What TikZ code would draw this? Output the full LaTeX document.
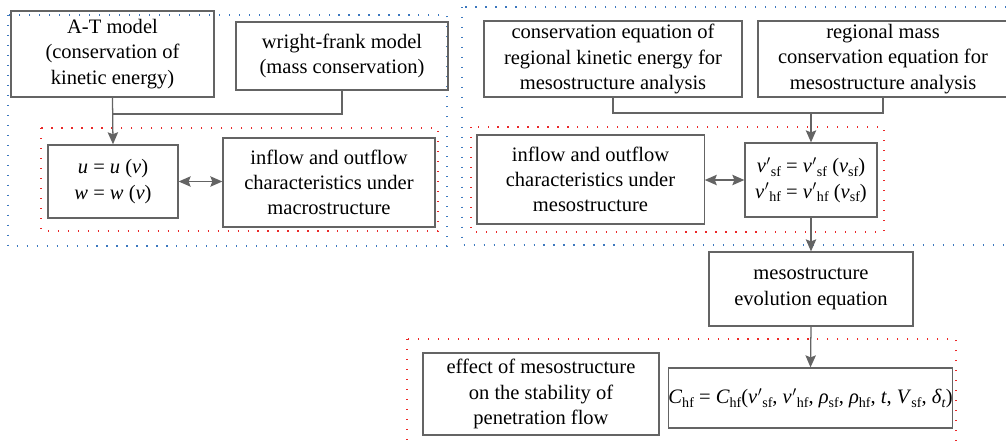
\documentclass[tikz,border=0pt]{standalone}
\usepackage{fontspec}
\setmainfont{Liberation Serif}
\usetikzlibrary{arrows.meta}

\definecolor{linegray}{RGB}{100,100,100}
\definecolor{dotblue}{RGB}{60,120,190}
\definecolor{dotred}{RGB}{235,40,40}

\newcommand\sbs[1]{\raisebox{-0.4ex}{\fontsize{10}{10}\selectfont #1}}
\newcommand\vp{\textit{v}\kern0.3pt$'$}

\begin{document}
\begin{tikzpicture}[x=0.025cm,y=-0.025cm,
  box/.style={draw=linegray, line width=0.9pt, align=center, inner sep=0pt,
    font=\fontsize{14.6}{18}\selectfont},
  line/.style={draw=linegray, line width=0.9pt},
  arr/.style={line, -{Stealth[length=3mm,width=2.6mm,inset=0.5mm]}},
  twoarr/.style={line, {Stealth[length=3mm,width=2.6mm,inset=0.5mm]}-{Stealth[length=3mm,width=2.6mm,inset=0.5mm]}},
  bluedot/.style={draw=dotblue, line width=0.8pt, dash pattern=on 0.8pt off 6.3pt},
  reddot/.style={draw=dotred, line width=0.8pt, dash pattern=on 0.8pt off 6.3pt}]
\clip (0,0) rectangle (1006,443);

% dotted frames
\draw[bluedot] (8,15) rectangle (447,246);
\draw[bluedot] (462,7) rectangle (1030,245);
\draw[reddot] (41,128) rectangle (438,231);
\draw[reddot] (471,127) rectangle (884,232);
\draw[reddot] (407,339) rectangle (956,460);

% macrostructure
\node[box, minimum width=5.08cm, minimum height=2.15cm] (at) at (112.5,54)
  {A-T model\\(conservation of\\kinetic energy)};
\node[box, minimum width=5.3cm, minimum height=1.7cm] (wf) at (342,56)
  {wright-frank model\\(mass conservation)};
\node[box, minimum width=3.25cm, minimum height=1.83cm] (uw) at (113,181.5)
  {\textit{u} = \textit{u} (\textit{v})\\\textit{w} = \textit{w} (\textit{v})};
\node[box, minimum width=5.3cm, minimum height=2.23cm] (inmac) at (329,182.5)
  {inflow and outflow\\characteristics under\\macrostructure};

% mesostructure
\node[box, minimum width=6.45cm, minimum height=1.9cm] (cons) at (613,59)
  {conservation equation of\\regional kinetic energy for\\mesostructure analysis};
\node[box, minimum width=6.25cm, minimum height=1.9cm] (mass) at (883,59)
  {regional mass\\conservation equation for\\mesostructure analysis};
\node[box, minimum width=5.68cm, minimum height=2.23cm] (inmes) at (590.5,179.5)
  {inflow and outflow\\characteristics under\\mesostructure};
\node[box, minimum width=3.3cm, minimum height=1.85cm] (vsf) at (811,180)
  {\vp\sbs{sf} = \vp\sbs{sf} (\textit{v}\sbs{sf})\\\vp\sbs{hf} = \vp\sbs{hf} (\textit{v}\sbs{sf})};
\node[box, minimum width=5.1cm, minimum height=1.85cm] (evo) at (811,289)
  {mesostructure\\evolution equation};
\node[box, minimum width=5.9cm, minimum height=2.05cm] (eff) at (541,394)
  {effect of mesostructure\\on the stability of\\penetration flow};
\node[box, minimum width=7.08cm, minimum height=1.5cm] (chf) at (810.5,398)
  {\textit{C}\sbs{hf} = \textit{C}\sbs{hf}(\vp\sbs{sf}, \vp\sbs{hf}, \textit{ρ}\sbs{sf}, \textit{ρ}\sbs{hf}, \textit{t}, \textit{V}\sbs{sf}, \textit{δ}\sbs{\textit{t}})};

% connectors
\coordinate (jl) at (112.5,114);
\coordinate (jr) at (811,113);
\draw[line] (wf.south) |- (jl);
\draw[arr] (at.south) -- (uw.north);
\draw[twoarr] (uw.east) -- (inmac.west |- uw.east);
\draw[line] (cons.south) |- (jr) -| (mass.south);
\draw[arr] (jr) -- (vsf.north);
\draw[twoarr] (vsf.west) -- (inmes.east |- vsf.west);
\draw[arr] (vsf.south) -- (evo.north);
\draw[arr] (evo.south) -- (chf.north);

\end{tikzpicture}
\end{document}
